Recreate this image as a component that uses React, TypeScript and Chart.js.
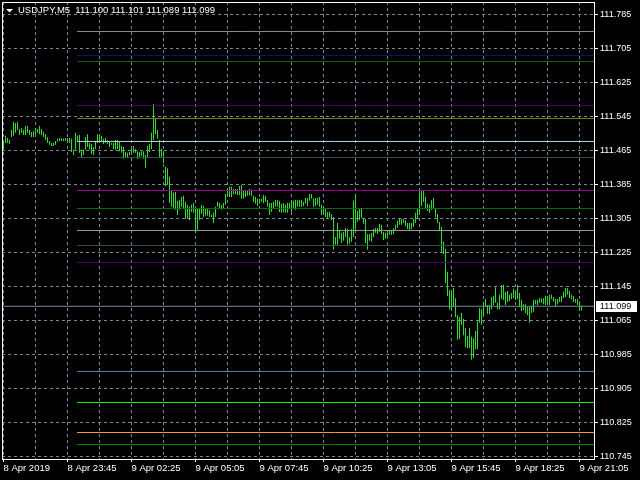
import React, { useEffect, useRef } from "react";
import { Chart, registerables } from "chart.js";

Chart.register(...registerables);

const symbolTitle = "USDJPY,M5";
const lastOHLC = [111.1, 111.101, 111.089, 111.099];
const currentPrice = 111.099;

const xTickLabels = [
  "8 Apr 2019", "8 Apr 23:45", "9 Apr 02:25", "9 Apr 05:05", "9 Apr 07:45",
  "9 Apr 10:25", "9 Apr 13:05", "9 Apr 15:45", "9 Apr 18:25", "9 Apr 21:05",
];

const yTickValues = [
  111.785, 111.705, 111.625, 111.545, 111.465, 111.385, 111.305,
  111.225, 111.145, 111.065, 110.985, 110.905, 110.825, 110.745,
];

const barHighs = [
  111.488, 111.500, 111.495, 111.490, 111.514, 111.533, 111.530, 111.533, 111.516, 111.518,
  111.514, 111.523, 111.523, 111.514, 111.509, 111.511, 111.518, 111.516, 111.523, 111.516,
  111.509, 111.504, 111.497, 111.488, 111.483, 111.483, 111.488, 111.493, 111.495, 111.495,
  111.493, 111.495, 111.495, 111.495, 111.493, 111.467, 111.507, 111.500, 111.502, 111.467,
  111.467, 111.497, 111.504, 111.483, 111.481, 111.474, 111.486, 111.504, 111.502, 111.500,
  111.493, 111.495, 111.490, 111.486, 111.483, 111.483, 111.490, 111.490, 111.486, 111.476,
  111.474, 111.462, 111.460, 111.462, 111.469, 111.476, 111.469, 111.464, 111.462, 111.464,
  111.464, 111.455, 111.476, 111.481, 111.507, 111.575, 111.540, 111.514, 111.490, 111.469,
  111.464, 111.427, 111.424, 111.403, 111.370, 111.366, 111.368, 111.347, 111.349, 111.356,
  111.359, 111.345, 111.338, 111.333, 111.338, 111.342, 111.328, 111.328, 111.328, 111.338,
  111.335, 111.328, 111.328, 111.326, 111.314, 111.319, 111.333, 111.345, 111.342, 111.338,
  111.342, 111.363, 111.377, 111.380, 111.380, 111.375, 111.375, 111.375, 111.382, 111.385,
  111.370, 111.370, 111.370, 111.375, 111.373, 111.359, 111.356, 111.352, 111.352, 111.352,
  111.361, 111.359, 111.349, 111.342, 111.342, 111.345, 111.349, 111.349, 111.347, 111.340,
  111.342, 111.338, 111.342, 111.342, 111.347, 111.347, 111.349, 111.349, 111.349, 111.349,
  111.345, 111.354, 111.354, 111.363, 111.363, 111.352, 111.354, 111.354, 111.356, 111.338,
  111.333, 111.330, 111.321, 111.321, 111.316, 111.309, 111.262, 111.295, 111.276, 111.272,
  111.274, 111.283, 111.281, 111.262, 111.281, 111.347, 111.363, 111.323, 111.330, 111.328,
  111.307, 111.305, 111.269, 111.269, 111.272, 111.281, 111.283, 111.283, 111.293, 111.291,
  111.274, 111.272, 111.276, 111.279, 111.276, 111.283, 111.291, 111.300, 111.305, 111.305,
  111.305, 111.302, 111.295, 111.295, 111.295, 111.305, 111.319, 111.328, 111.375, 111.370,
  111.370, 111.356, 111.340, 111.338, 111.349, 111.354, 111.330, 111.316, 111.298, 111.286,
  111.251, 111.234, 111.180, 111.137, 111.137, 111.142, 111.118, 111.078, 111.074, 111.083,
  111.069, 111.048, 111.029, 111.048, 111.027, 111.024, 111.041, 111.064, 111.095, 111.092,
  111.109, 111.116, 111.102, 111.102, 111.121, 111.123, 111.144, 111.107, 111.126, 111.149,
  111.149, 111.133, 111.135, 111.126, 111.130, 111.140, 111.130, 111.149, 111.130, 111.114,
  111.104, 111.104, 111.097, 111.097, 111.100, 111.114, 111.114, 111.114, 111.118, 111.118,
  111.118, 111.123, 111.123, 111.126, 111.126, 111.121, 111.116, 111.116, 111.121, 111.123,
  111.133, 111.142, 111.142, 111.135, 111.126, 111.123, 111.116, 111.116, 111.111, 111.101,
];

const barLows = [
  111.467, 111.483, 111.483, 111.481, 111.497, 111.500, 111.507, 111.514, 111.502, 111.507,
  111.502, 111.502, 111.507, 111.502, 111.497, 111.497, 111.502, 111.507, 111.504, 111.502,
  111.497, 111.490, 111.483, 111.479, 111.476, 111.476, 111.479, 111.486, 111.488, 111.488,
  111.488, 111.488, 111.488, 111.483, 111.462, 111.455, 111.467, 111.486, 111.460, 111.450,
  111.455, 111.467, 111.474, 111.467, 111.457, 111.455, 111.469, 111.483, 111.486, 111.488,
  111.481, 111.483, 111.481, 111.474, 111.479, 111.469, 111.467, 111.469, 111.464, 111.460,
  111.446, 111.450, 111.450, 111.455, 111.460, 111.460, 111.460, 111.446, 111.450, 111.453,
  111.446, 111.424, 111.450, 111.462, 111.469, 111.490, 111.504, 111.493, 111.450, 111.450,
  111.436, 111.382, 111.385, 111.342, 111.333, 111.328, 111.326, 111.314, 111.326, 111.333,
  111.328, 111.305, 111.305, 111.302, 111.321, 111.319, 111.272, 111.279, 111.302, 111.316,
  111.309, 111.312, 111.312, 111.309, 111.309, 111.295, 111.309, 111.333, 111.328, 111.326,
  111.330, 111.338, 111.356, 111.356, 111.356, 111.363, 111.363, 111.361, 111.361, 111.352,
  111.352, 111.356, 111.359, 111.361, 111.359, 111.345, 111.340, 111.335, 111.340, 111.345,
  111.342, 111.345, 111.333, 111.314, 111.321, 111.330, 111.333, 111.333, 111.321, 111.319,
  111.321, 111.319, 111.319, 111.328, 111.321, 111.330, 111.326, 111.333, 111.333, 111.333,
  111.335, 111.340, 111.335, 111.347, 111.352, 111.333, 111.335, 111.338, 111.333, 111.314,
  111.319, 111.309, 111.305, 111.309, 111.302, 111.232, 111.244, 111.244, 111.258, 111.248,
  111.253, 111.262, 111.244, 111.246, 111.251, 111.262, 111.279, 111.298, 111.302, 111.307,
  111.293, 111.248, 111.232, 111.253, 111.251, 111.262, 111.272, 111.269, 111.274, 111.269,
  111.255, 111.258, 111.262, 111.267, 111.267, 111.269, 111.276, 111.283, 111.291, 111.291,
  111.295, 111.288, 111.281, 111.276, 111.281, 111.286, 111.295, 111.305, 111.314, 111.335,
  111.345, 111.330, 111.323, 111.319, 111.326, 111.330, 111.309, 111.295, 111.276, 111.227,
  111.222, 111.154, 111.123, 111.092, 111.092, 111.097, 111.074, 111.020, 111.022, 111.055,
  111.031, 111.003, 111.001, 111.001, 110.973, 110.977, 110.998, 110.998, 111.060, 111.055,
  111.076, 111.097, 111.081, 111.081, 111.092, 111.102, 111.107, 111.092, 111.092, 111.116,
  111.114, 111.102, 111.109, 111.111, 111.116, 111.118, 111.114, 111.116, 111.097, 111.088,
  111.090, 111.083, 111.078, 111.060, 111.083, 111.086, 111.104, 111.102, 111.107, 111.107,
  111.104, 111.102, 111.102, 111.102, 111.116, 111.111, 111.097, 111.104, 111.109, 111.109,
  111.118, 111.121, 111.126, 111.118, 111.116, 111.109, 111.107, 111.102, 111.088, 111.089,
];

const levelValues = [
  111.7455, 111.689, 111.6749, 111.5714, 111.5408, 111.4867, 111.449, 111.3714,
  111.329, 111.2773, 111.242, 111.202, 110.9455, 110.8726, 110.802, 110.7737,
];
const levelColors = [
  "#8c8c8c", "#101070", "#006400", "#4b0082", "#808000", "#add8e6", "#2f4f4f", "#990099",
  "#007000", "#9a9a9a", "#2f4f4f", "#4b0082", "#4682b4", "#00ff00", "#f4a330", "#008000",
];
const levelStartBar = 36.75;

const BAR_COLOR = "#2ddf2d";
const GRID_COLOR = "#778899";
const FONT = "Liberation Sans";

const X_MIN = -0.75;
const X_MAX = 295.25;
const Y_MIN = 110.7396;
const Y_MAX = 111.8149;

const mtPlugin = {
  id: "mtOverlay",
  afterDraw(chart: any) {
    const { ctx, chartArea } = chart;
    const { left, top, right, bottom } = chartArea;
    ctx.save();
    // frame (left + top)
    ctx.strokeStyle = "#ffffff";
    ctx.lineWidth = 1;
    ctx.beginPath();
    ctx.moveTo(left + 0.5, bottom);
    ctx.lineTo(left + 0.5, top + 0.5);
    ctx.lineTo(right, top + 0.5);
    ctx.stroke();
    // header
    ctx.fillStyle = "#ffffff";
    ctx.beginPath();
    ctx.moveTo(left + 4, top + 7);
    ctx.lineTo(left + 11, top + 7);
    ctx.lineTo(left + 7.5, top + 10.5);
    ctx.closePath();
    ctx.fill();
    ctx.font = `9.5px "${FONT}"`;
    ctx.textBaseline = "middle";
    ctx.textAlign = "left";
    ctx.fillText(
      `${symbolTitle}  ${lastOHLC.map((v) => v.toFixed(3)).join(" ")}`,
      left + 16,
      top + 8.5
    );
    // current price label
    const py = chart.scales.y.getPixelForValue(currentPrice);
    ctx.fillStyle = "#ffffff";
    ctx.fillRect(right + 2, Math.round(py) - 5, 41, 11);
    ctx.fillStyle = "#000000";
    ctx.font = `9px "${FONT}"`;
    ctx.fillText(currentPrice.toFixed(3), right + 6, Math.round(py) + 0.5);
    ctx.restore();
  },
};

export default function App() {
  const ref = useRef<HTMLCanvasElement | null>(null);

  useEffect(() => {
    document.body.style.margin = "0";
    document.body.style.background = "#000";
    const canvas = ref.current;
    if (!canvas) return;

    const xGrid: number[] = [];
    for (let v = 0; v <= 288; v += 16) xGrid.push(v);

    const datasets: any[] = [
      {
        type: "bar",
        label: "USDJPY",
        data: barHighs.map((h, i) => ({ x: i, y: [barLows[i], h] })),
        backgroundColor: BAR_COLOR,
        borderWidth: 0,
        barThickness: 1,
        inflateAmount: 0,
        order: 2,
      },
      ...levelValues.map((v, k) => ({
        type: "line",
        label: "level" + k,
        data: [
          { x: levelStartBar, y: v },
          { x: X_MAX, y: v },
        ],
        borderColor: levelColors[k],
        borderWidth: 1,
        pointRadius: 0,
        fill: false,
        order: 1,
      })),
      {
        type: "line",
        label: "price",
        data: [
          { x: X_MIN, y: currentPrice },
          { x: X_MAX, y: currentPrice },
        ],
        borderColor: "#778899",
        borderWidth: 1,
        pointRadius: 0,
        fill: false,
        order: 1,
      },
    ];

    const chart = new Chart(canvas, {
      type: "bar",
      data: { datasets },
      options: {
        animation: false,
        responsive: false,
        devicePixelRatio: 1,
        layout: { padding: { left: 2, top: 2, right: 0, bottom: 0 } },
        plugins: { legend: { display: false }, tooltip: { enabled: false } },
        scales: {
          x: {
            type: "linear",
            min: X_MIN,
            max: X_MAX,
            offset: false,
            position: "bottom",
            afterBuildTicks: (s: any) => {
              s.ticks = xGrid.map((v) => ({ value: v }));
            },
            afterFit: (s: any) => {
              s.height = 21;
              s.paddingLeft = 0;
              s.paddingRight = 0;
            },
            ticks: {
              autoSkip: false,
              maxRotation: 0,
              minRotation: 0,
              align: "start",
              color: "#ffffff",
              padding: 1,
              font: { family: FONT, size: 9.5 },
              callback: (v: any) => {
                const n = Math.round(Number(v));
                return n % 32 === 0 ? xTickLabels[n / 32] : "";
              },
            },
            grid: {
              offset: false,
              color: GRID_COLOR,
              lineWidth: 1,
              tickLength: 3,
              tickColor: (c: any) =>
                c.tick && Math.round(c.tick.value) % 32 === 0 ? "#ffffff" : "rgba(0,0,0,0)",
            },
            border: { display: true, color: "#ffffff", width: 1, dash: [3, 3] },
          },
          y: {
            type: "linear",
            position: "right",
            min: Y_MIN,
            max: Y_MAX,
            afterBuildTicks: (s: any) => {
              s.ticks = yTickValues.map((v) => ({ value: v }));
            },
            afterFit: (s: any) => {
              s.width = 46;
              s.paddingTop = 0;
              s.paddingBottom = 0;
            },
            ticks: {
              color: "#ffffff",
              padding: 2,
              font: { family: FONT, size: 9 },
              callback: (v: any) => Number(v).toFixed(3),
            },
            grid: {
              color: GRID_COLOR,
              lineWidth: 1,
              tickLength: 4,
              tickColor: "#ffffff",
            },
            border: { display: true, color: "#ffffff", width: 1, dash: [3, 3] },
          },
        },
      } as any,
      plugins: [mtPlugin],
    } as any);

    return () => chart.destroy();
  }, []);

  return (
    <canvas
      ref={ref}
      width={640}
      height={480}
      style={{ display: "block", width: 640, height: 480, background: "#000" }}
    />
  );
}
